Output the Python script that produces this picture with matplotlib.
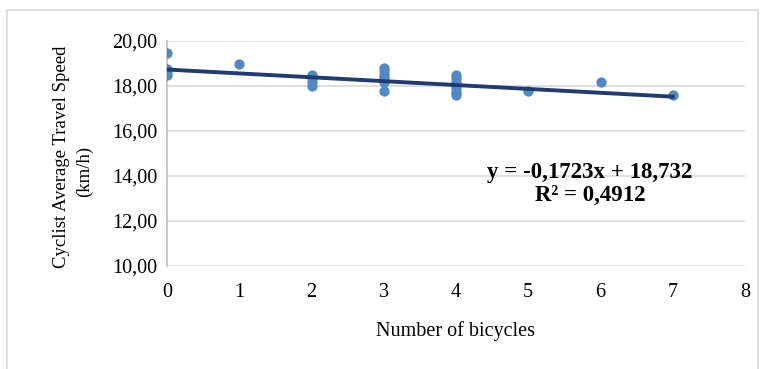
import numpy as np
import matplotlib
matplotlib.use("Agg")
import matplotlib.pyplot as plt
from matplotlib.patches import Rectangle

# number of bicycles vs cyclist average travel speed (km/h)
bicycles = [0, 0, 0, 0,
            1,
            2, 2, 2, 2,
            3, 3, 3, 3, 3, 3,
            4, 4, 4, 4, 4, 4, 4,
            5, 6, 7]
speed = [19.48, 18.75, 18.62, 18.48,
         18.96,
         18.50, 18.35, 18.20, 18.02,
         18.78, 18.65, 18.50, 18.35, 18.20, 17.80,
         18.49, 18.35, 18.20, 18.05, 17.90, 17.75, 17.60,
         17.78, 18.19, 17.60]

slope = -0.1723
intercept = 18.732
x_ticks = [0, 1, 2, 3, 4, 5, 6, 7, 8]
y_ticks = [10, 12, 14, 16, 18, 20]

plt.rcParams['font.family'] = ['Liberation Serif', 'DejaVu Serif']

W, H = 771, 369
fig = plt.figure(figsize=(W / 100, H / 100), dpi=100)
ax = fig.add_axes([167 / W, 1 - 266 / H, (745 - 167) / W, (266 - 41) / H])

# outer chart frame
fig.patches.append(Rectangle((7 / W, -0.05), (758 - 7) / W, 1.05 - 10 / H,
                             transform=fig.transFigure, fill=False,
                             edgecolor='#D9D9D9', linewidth=1.2))

ax.scatter(bicycles, speed, s=55, color='#4F89C6', zorder=3, linewidths=0)

line_x = np.array([0, 7])
ax.plot(line_x, slope * line_x + intercept, color='#1F3B73', linewidth=2.8, zorder=4)

ax.set_xlim(0, 8)
ax.set_ylim(10, 20)
ax.set_xticks(x_ticks)
ax.set_yticks(y_ticks)
ax.set_yticklabels([f"{v:.2f}".replace('.', ',') for v in y_ticks])
ax.grid(axis='y', color='#D9D9D9', linewidth=1.2)
ax.set_axisbelow(True)

for s in ['top', 'right', 'bottom']:
    ax.spines[s].set_visible(False)
ax.spines['left'].set_color('#BFBFBF')
ax.spines['left'].set_linewidth(1.2)
ax.tick_params(axis='both', length=0, labelsize=14.5, colors='black')
ax.tick_params(axis='x', pad=12)
ax.tick_params(axis='y', pad=7)

fig.text(456 / W, 1 - 331 / H, 'Number of bicycles', fontsize=14.5,
         ha='center', va='center')
fig.text(62 / W, 1 - 157 / H, 'Cyclist Average Travel Speed', fontsize=13.5,
         rotation=90, ha='center', va='center')
fig.text(84 / W, 1 - 171 / H, '(km/h)', fontsize=13.5,
         rotation=90, ha='center', va='center')

ax.text(5.855, 13.64, 'y = -0,1723x + 18,732\nR² = 0,4912', ha='center', va='center',
        fontsize=16.5, fontweight='bold', linespacing=1.15)

fig.savefig('out.png', dpi=100)
